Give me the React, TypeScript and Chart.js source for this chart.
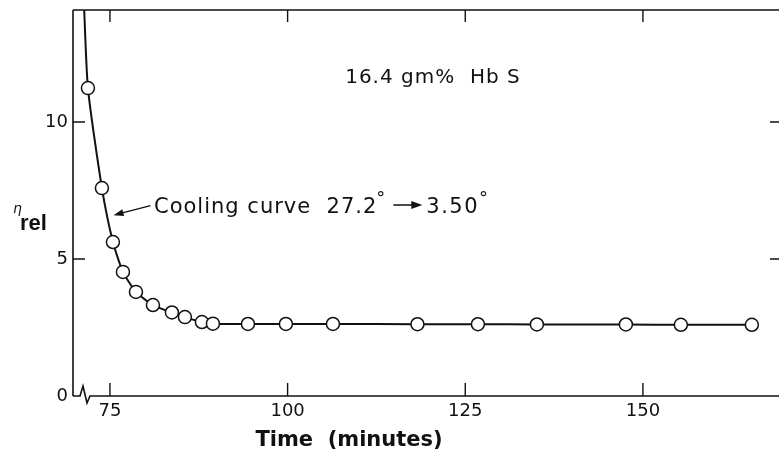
import React, { useEffect, useRef } from 'react';
import { Chart, registerables } from 'chart.js';

Chart.register(...registerables);

// Measured samples (time in minutes, relative viscosity)
const sampleTimes = [71.9, 73.87, 75.42, 76.83, 78.66, 81.05, 83.72, 85.55, 87.94, 89.49, 94.42, 99.76, 106.38, 118.27, 126.78, 135.08, 147.6, 155.34, 165.33];
const etaRel = [11.24, 7.59, 5.62, 4.53, 3.8, 3.32, 3.05, 2.88, 2.7, 2.64, 2.63, 2.63, 2.63, 2.62, 2.62, 2.61, 2.61, 2.6, 2.6];
// Where the cooling curve enters from above the plotted range
const curveLeadTime = [71.3];
const curveLeadEta = [14.6];

const xTicks = [75, 100, 125, 150];
const yTicks = [0, 5, 10];
const xRange = [69.8, 169.15];
const yRange = [0, 14.09];

const FONT = "'DejaVu Sans', sans-serif";
const INK = '#111';

const framePlugin = {
  id: 'frameAndNotes',
  afterDatasetsDraw(chart: any) {
    const { ctx, chartArea: ca, scales } = chart;
    const xs = scales.x;
    const ys = scales.y;
    ctx.save();
    ctx.strokeStyle = INK;
    ctx.fillStyle = INK;
    ctx.lineWidth = 1.6;
    ctx.lineCap = 'butt';
    // frame: left, top
    ctx.beginPath();
    ctx.moveTo(ca.left, ca.top);
    ctx.lineTo(ca.left, ca.bottom);
    ctx.moveTo(ca.left, ca.top);
    ctx.lineTo(ca.right, ca.top);
    ctx.stroke();
    // bottom with axis break
    ctx.beginPath();
    ctx.moveTo(ca.left, ca.bottom);
    ctx.lineTo(ca.left + 7, ca.bottom);
    ctx.lineTo(ca.left + 10, ca.bottom - 10);
    ctx.lineTo(ca.left + 14, ca.bottom + 7);
    ctx.lineTo(ca.left + 17, ca.bottom);
    ctx.lineTo(ca.right, ca.bottom);
    ctx.stroke();
    // ticks (inward)
    ctx.lineWidth = 1.4;
    ctx.beginPath();
    xTicks.forEach((v) => {
      const px = xs.getPixelForValue(v);
      ctx.moveTo(px, ca.bottom);
      ctx.lineTo(px, ca.bottom - 13);
      ctx.moveTo(px, ca.top);
      ctx.lineTo(px, ca.top + 12);
    });
    yTicks.forEach((v) => {
      if (v === 0) return;
      const py = ys.getPixelForValue(v);
      ctx.moveTo(ca.left, py);
      ctx.lineTo(ca.left + 12, py);
      ctx.moveTo(ca.right, py);
      ctx.lineTo(ca.right - 9, py);
    });
    ctx.stroke();

    // y-axis title: eta_rel
    ctx.textBaseline = 'alphabetic';
    ctx.textAlign = 'left';
    ctx.font = `italic 14px ${FONT}`;
    ctx.fillText('\u03B7', ca.left - 60, ca.top + 203);
    ctx.font = `bold 22px 'Liberation Sans', sans-serif`;
    ctx.fillText('rel', ca.left - 53, ca.top + 220);

    // x-axis title
    ctx.textAlign = 'center';
    ctx.font = `bold 21px ${FONT}`;
    ctx.fillText('Time  (minutes)', ca.left + 276, ca.top + 436);

    // sample label
    ctx.textAlign = 'left';
    (ctx as any).letterSpacing = '1px';
    ctx.font = `20px ${FONT}`;
    ctx.fillText('16.4 gm%  Hb S', xs.getPixelForValue(108.1), ys.getPixelForValue(11.42));

    // cooling curve note
    let x = xs.getPixelForValue(81.2);
    const base = ys.getPixelForValue(6.68);
    ctx.font = `21px ${FONT}`;
    const seg1 = 'Cooling curve  27.2';
    ctx.fillText(seg1, x, base);
    x += ctx.measureText(seg1).width;
    ctx.font = `18px ${FONT}`;
    ctx.fillText('\u00B0', x - 1, base - 9);
    x += ctx.measureText('\u00B0').width + 6;
    (ctx as any).letterSpacing = '0px';
    // small arrow
    const ay = base - 8;
    ctx.lineWidth = 1.5;
    ctx.beginPath();
    ctx.moveTo(x, ay);
    ctx.lineTo(x + 20, ay);
    ctx.stroke();
    ctx.beginPath();
    ctx.moveTo(x + 29, ay);
    ctx.lineTo(x + 18, ay - 4);
    ctx.lineTo(x + 18, ay + 4);
    ctx.closePath();
    ctx.fill();
    x += 33;
    (ctx as any).letterSpacing = '1.5px';
    ctx.font = `21px ${FONT}`;
    ctx.fillText('3.50', x, base);
    x += ctx.measureText('3.50').width;
    ctx.font = `18px ${FONT}`;
    ctx.fillText('\u00B0', x, base - 9);
    (ctx as any).letterSpacing = '0px';

    // pointer arrow to the curve
    const sx = xs.getPixelForValue(80.7);
    const sy = ys.getPixelForValue(6.95);
    const tx = xs.getPixelForValue(75.5);
    const ty = ys.getPixelForValue(6.6);
    ctx.lineWidth = 1.4;
    ctx.beginPath();
    ctx.moveTo(sx, sy);
    ctx.lineTo(tx + 6, ty - 1.5);
    ctx.stroke();
    const ang = Math.atan2(ty - sy, tx - sx);
    ctx.beginPath();
    ctx.moveTo(tx, ty);
    ctx.lineTo(tx - 10 * Math.cos(ang) + 3.5 * Math.sin(ang), ty - 10 * Math.sin(ang) - 3.5 * Math.cos(ang));
    ctx.lineTo(tx - 10 * Math.cos(ang) - 3.5 * Math.sin(ang), ty - 10 * Math.sin(ang) + 3.5 * Math.cos(ang));
    ctx.closePath();
    ctx.fill();
    ctx.restore();
  },
};

export default function App() {
  const ref = useRef<HTMLCanvasElement | null>(null);
  useEffect(() => {
    if (!ref.current) return;
    const pts = sampleTimes.map((t, i) => ({ x: t, y: etaRel[i] }));
    const curve = [
      ...curveLeadTime.map((t, i) => ({ x: t, y: curveLeadEta[i] })),
      ...pts,
    ];
    const chart = new Chart(ref.current, {
      type: 'scatter',
      data: {
        datasets: [
          {
            label: 'samples',
            data: pts,
            showLine: false,
            pointRadius: 6.5,
            pointHoverRadius: 6.5,
            pointBackgroundColor: '#fff',
            pointBorderColor: INK,
            pointBorderWidth: 1.5,
            order: 0,
          },
          {
            label: 'curve',
            data: curve,
            showLine: true,
            borderColor: INK,
            borderWidth: 2,
            pointRadius: 0,
            tension: 0.2,
            fill: false,
            order: 1,
          },
        ],
      },
      options: {
        animation: false,
        responsive: true,
        maintainAspectRatio: false,
        events: [],
        layout: { autoPadding: false, padding: { top: 10, left: 0, right: 0, bottom: 0 } },
        plugins: { legend: { display: false }, tooltip: { enabled: false }, title: { display: false } },
        scales: {
          x: {
            type: 'linear',
            min: xRange[0],
            max: xRange[1],
            grid: { display: false, drawTicks: false },
            border: { display: false },
            afterBuildTicks: (s: any) => {
              s.ticks = xTicks.map((v) => ({ value: v }));
            },
            afterFit: (s: any) => {
              s.height = 59;
              s.paddingLeft = 0;
              s.paddingRight = 0;
            },
            ticks: {
              autoSkip: false,
              maxRotation: 0,
              padding: 5,
              color: INK,
              font: { family: FONT, size: 18 },
              callback: (v: any) => String(v),
            },
          },
          y: {
            type: 'linear',
            min: yRange[0],
            max: yRange[1],
            grid: { display: false, drawTicks: false },
            border: { display: false },
            afterBuildTicks: (s: any) => {
              s.ticks = yTicks.map((v) => ({ value: v }));
            },
            afterFit: (s: any) => {
              s.width = 73;
              s.paddingTop = 0;
              s.paddingBottom = 0;
            },
            ticks: {
              padding: 5,
              color: INK,
              font: { family: FONT, size: 18 },
              callback: (v: any) => String(v),
            },
          },
        },
      },
      plugins: [framePlugin],
    });
    return () => chart.destroy();
  }, []);
  return (
    <div style={{ position: 'fixed', left: 0, top: 0, width: 779, height: 455, background: '#fff' }}>
      <canvas ref={ref} />
    </div>
  );
}
